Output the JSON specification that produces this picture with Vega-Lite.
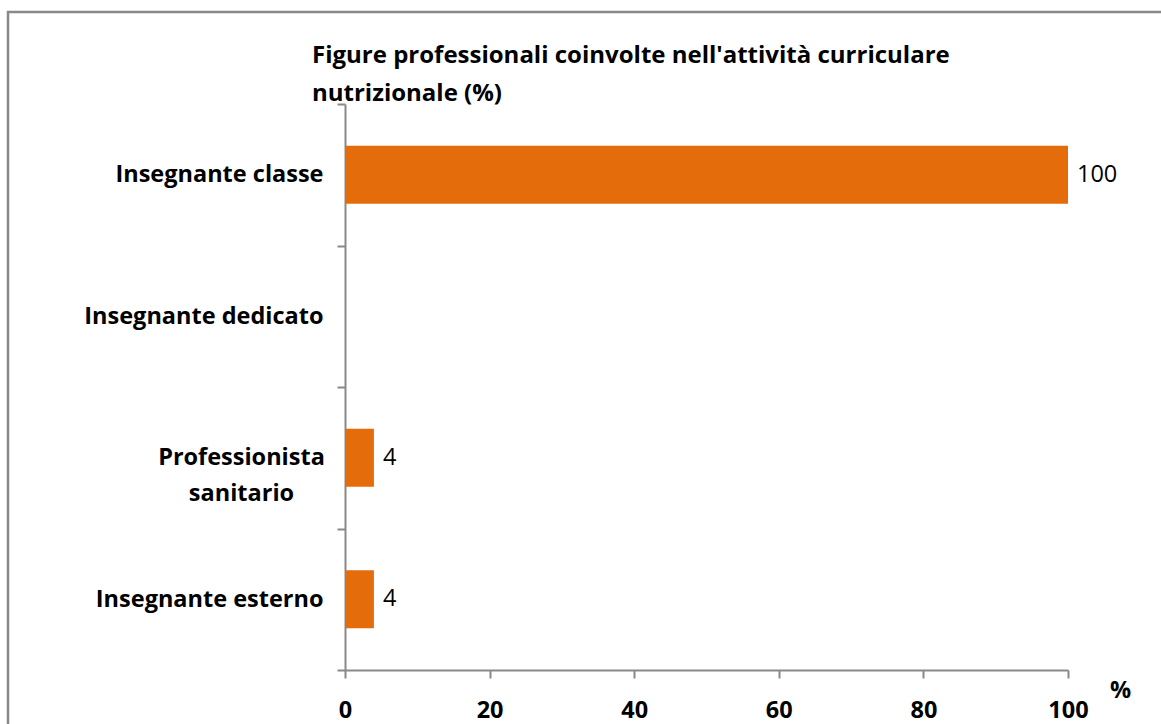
{
  "$schema": "https://vega.github.io/schema/vega-lite/v6.json",
  "autosize": "none",
  "width": 1156,
  "height": 715,
  "padding": {"left": 8, "top": 12, "right": -3, "bottom": -3},
  "background": "white",
  "config": {
    "view": {"stroke": "#898989", "strokeWidth": 2.5},
    "font": "Open Sans"
  },
  "title": {
    "text": ["Figure professionali coinvolte nell'attività curriculare", "nutrizionale (%)"],
    "anchor": "start",
    "frame": "group",
    "orient": "top",
    "baseline": "top",
    "offset": 0,
    "dx": 304,
    "dy": 106,
    "font": "Open Sans",
    "fontSize": 24,
    "fontWeight": "bold",
    "color": "#000000",
    "lineHeight": 38
  },
  "data": {
    "values": [
      {"figura": "Insegnante classe", "valore": 100},
      {"figura": "Insegnante dedicato", "valore": 0},
      {"figura": "Professionista sanitario", "valore": 4},
      {"figura": "Insegnante esterno", "valore": 4}
    ]
  },
  "encoding": {
    "y": {
      "field": "figura",
      "type": "nominal",
      "sort": null,
      "scale": {
        "domain": ["Insegnante classe", "Insegnante dedicato", "Professionista sanitario", "Insegnante esterno"],
        "range": [92, 658],
        "paddingInner": 0,
        "paddingOuter": 0
      },
      "axis": {
        "title": null,
        "offset": -337,
        "tickBand": "extent",
        "tickSize": 8,
        "tickWidth": 2,
        "tickColor": "#898989",
        "domainColor": "#898989",
        "domainWidth": 2,
        "labelFont": "Open Sans",
        "labelFontSize": 23.5,
        "labelFontWeight": "bold",
        "labelColor": "#000000",
        "labelLimit": 0,
        "labelLineHeight": 36,
        "labelExpr": "datum.label == 'Professionista sanitario' ? ['Professionista', 'sanitario'] : datum.label",
        "labelAlign": {"condition": {"test": "datum.value == 'Professionista sanitario'", "value": "center"}, "value": "right"},
        "labelPadding": {"condition": {"test": "datum.value == 'Professionista sanitario'", "value": 96}, "value": 14}
      }
    },
    "x": {
      "field": "valore",
      "type": "quantitative",
      "scale": {"domain": [0, 100], "range": [337, 1060], "nice": false, "zero": true},
      "axis": {
        "title": "%",
        "titleFont": "Open Sans",
        "titleFontSize": 23.5,
        "titleFontWeight": "bold",
        "titleColor": "#000000",
        "titleX": 1112,
        "titleY": 20,
        "titleAlign": "center",
        "titleBaseline": "middle",
        "offset": -57,
        "values": [0, 20, 40, 60, 80, 100],
        "grid": false,
        "tickSize": 8,
        "tickWidth": 2,
        "tickColor": "#898989",
        "domainColor": "#898989",
        "domainWidth": 2,
        "labelFont": "Open Sans",
        "labelFontSize": 23.5,
        "labelFontWeight": "bold",
        "labelColor": "#000000",
        "labelPadding": 20,
        "labelFlush": false
      }
    }
  },
  "layer": [
    {
      "mark": {"type": "bar", "color": "#E46C0A", "height": {"band": 0.41}}
    },
    {
      "transform": [{"filter": "datum.valore > 0"}],
      "mark": {"type": "text", "align": "left", "baseline": "middle", "dx": 9, "fontSize": 23.5, "font": "Open Sans", "color": "#000000"},
      "encoding": {"text": {"field": "valore", "type": "quantitative"}}
    }
  ]
}
